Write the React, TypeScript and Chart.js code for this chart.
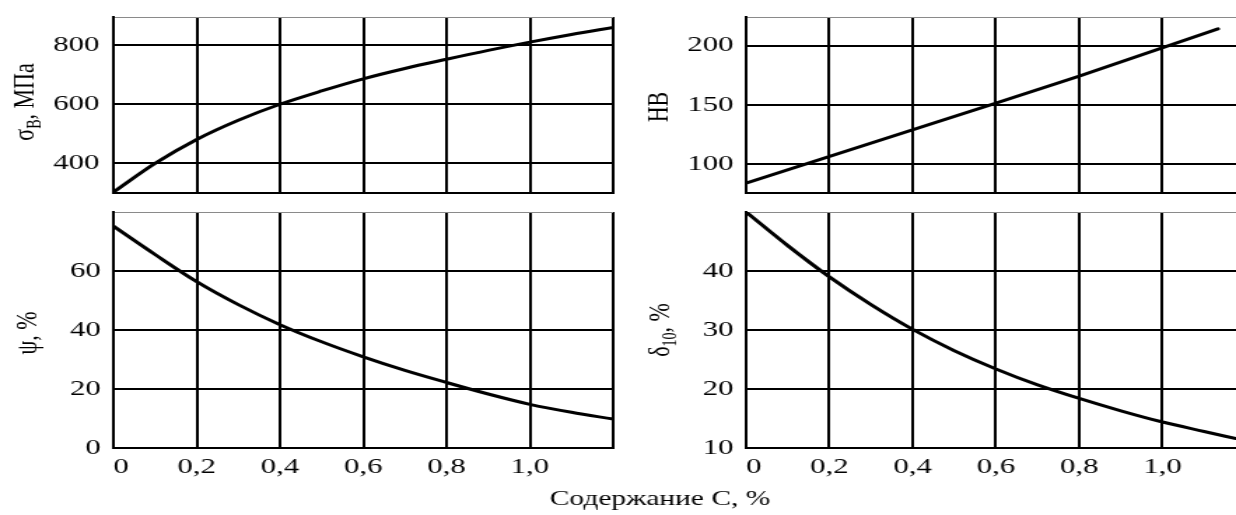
import React, { useEffect, useRef } from "react";
import { Chart, registerables } from "chart.js";

Chart.register(...registerables);

// ---------- data ----------
const carbonTicksLeft = [0, 0.2, 0.4, 0.6, 0.8, 1.0, 1.2];
const carbonTicksRight = [0, 0.2, 0.4, 0.6, 0.8, 1.0, 1.176];
const carbonTickLabels = ["0", "0,2", "0,4", "0,6", "0,8", "1,0", ""];

const strengthC = [0, 0.1, 0.2, 0.3, 0.4, 0.5, 0.6, 0.7, 0.8, 0.9, 1.0, 1.1, 1.2];
const strengthMPa = [303, 400, 481, 546, 600, 645, 686, 721, 752, 782, 810, 836, 860];
const strengthTicks = [400, 600, 800, 895];
const strengthTickLabels = ["400", "600", "800", ""];

const hardnessC = [0, 0.6, 0.8, 1.133];
const hardnessHB = [84.3, 151.5, 174.2, 214];
const hardnessTicks = [100, 150, 200, 224];
const hardnessTickLabels = ["100", "150", "200", ""];

const reductionC = [0, 0.1, 0.2, 0.3, 0.4, 0.5, 0.6, 0.7, 0.8, 0.9, 1.0, 1.1, 1.2];
const reductionPct = [75.2, 65.6, 56.4, 48.6, 41.8, 36.0, 30.9, 26.3, 22.2, 18.3, 14.8, 12.1, 9.8];
const reductionTicks = [0, 20, 40, 60, 80];
const reductionTickLabels = ["0", "20", "40", "60", ""];

const elongationC = [0, 0.1, 0.2, 0.3, 0.4, 0.5, 0.6, 0.7, 0.8, 0.9, 1.0, 1.1, 1.176];
const elongationPct = [50, 44.3, 39.0, 34.3, 30.1, 26.5, 23.4, 20.7, 18.4, 16.3, 14.4, 12.8, 11.6];
const elongationTicks = [10, 20, 30, 40, 50];
const elongationTickLabels = ["10", "20", "30", "40", ""];

const xAxisTitle = "Содержание С, %";

// ---------- layout (internal canvas units, stretched horizontally by CSS) ----------
const CW = 883;
const CH = 515;
const PAGE_W = 1236;
const FONT = '"Liberation Serif", "Times New Roman", serif';

type Part = { text: string; sub?: boolean };
type Panel = {
  xs: number[];
  ys: number[];
  straight?: boolean;
  xMin: number;
  xMax: number;
  xTicks: number[];
  xLabels: string[];
  showXLabels: boolean;
  lastXGridHidden: boolean;
  yMin: number;
  yMax: number;
  yTicks: number[];
  yLabels: string[];
  pad: { left: number; right: number; top: number; bottom: number };
  yWidth: number;
  yPad: number;
  xHeight: number;
  title: Part[];
  titleX: number;
  titleY: number;
  xTitle?: boolean;
};

const panels: Panel[] = [
  {
    xs: strengthC, ys: strengthMPa,
    xMin: 0, xMax: 1.2, xTicks: carbonTicksLeft, xLabels: carbonTickLabels, showXLabels: false, lastXGridHidden: false,
    yMin: 300, yMax: 895, yTicks: strengthTicks, yLabels: strengthTickLabels,
    pad: { left: 0, right: CW - 438, top: 17, bottom: CH - 193 }, yWidth: 81, yPad: 10, xHeight: 0,
    title: [{ text: "σ" }, { text: "В", sub: true }, { text: ", МПа" }], titleX: 23.5, titleY: 102,
  },
  {
    xs: hardnessC, ys: hardnessHB, straight: true,
    xMin: 0, xMax: 1.1765, xTicks: carbonTicksRight, xLabels: carbonTickLabels, showXLabels: false, lastXGridHidden: true,
    yMin: 76, yMax: 224, yTicks: hardnessTicks, yLabels: hardnessTickLabels,
    pad: { left: 450, right: 0, top: 17, bottom: CH - 193 }, yWidth: 83, yPad: 9, xHeight: 0,
    title: [{ text: "HB" }], titleX: 477, titleY: 107,
  },
  {
    xs: reductionC, ys: reductionPct,
    xMin: 0, xMax: 1.2, xTicks: carbonTicksLeft, xLabels: carbonTickLabels, showXLabels: true, lastXGridHidden: false,
    yMin: 0, yMax: 80, yTicks: reductionTicks, yLabels: reductionTickLabels,
    pad: { left: 0, right: CW - 438, top: 212, bottom: 0 }, yWidth: 81, yPad: 9, xHeight: CH - 448,
    title: [{ text: "ψ, %" }], titleX: 25.5, titleY: 333, xTitle: true,
  },
  {
    xs: elongationC, ys: elongationPct,
    xMin: 0, xMax: 1.1765, xTicks: carbonTicksRight, xLabels: carbonTickLabels, showXLabels: true, lastXGridHidden: true,
    yMin: 10, yMax: 50, yTicks: elongationTicks, yLabels: elongationTickLabels,
    pad: { left: 450, right: 0, top: 212, bottom: 0 }, yWidth: 83, yPad: 9, xHeight: CH - 448,
    title: [{ text: "δ" }, { text: "10", sub: true }, { text: ", %" }], titleX: 478, titleY: 330,
  },
];

function titlePlugin(p: Panel) {
  return {
    id: "panelTitle",
    afterDraw(chart: any) {
      const ctx = chart.ctx as CanvasRenderingContext2D;
      ctx.save();
      ctx.fillStyle = "#000";
      ctx.textAlign = "left";
      ctx.textBaseline = "alphabetic";
      const widths = p.title.map((part) => {
        ctx.font = `${part.sub ? 14 : 22}px ${FONT}`;
        return ctx.measureText(part.text).width;
      });
      const total = widths.reduce((a, b) => a + b, 0);
      ctx.translate(p.titleX, p.titleY);
      ctx.rotate(-Math.PI / 2);
      let cx = -total / 2;
      p.title.forEach((part, i) => {
        ctx.font = `${part.sub ? 14 : 22}px ${FONT}`;
        ctx.fillText(part.text, cx, part.sub ? 5 : 0);
        cx += widths[i];
      });
      ctx.restore();
      if (p.xTitle) {
        ctx.save();
        ctx.fillStyle = "#000";
        ctx.font = `21px ${FONT}`;
        ctx.textAlign = "center";
        ctx.textBaseline = "middle";
        ctx.fillText(xAxisTitle, 471.5, 499);
        ctx.restore();
      }
    },
  };
}

function buildConfig(p: Panel): any {
  const tickFont = { family: FONT, size: 22, lineHeight: 1 };
  const zeroPad = (s: any) => {
    s.paddingLeft = 0;
    s.paddingRight = 0;
    s.paddingTop = 0;
    s.paddingBottom = 0;
  };
  return {
    type: "line",
    data: {
      datasets: [
        {
          data: p.xs.map((x, i) => ({ x, y: p.ys[i] })),
          borderColor: "#000",
          borderWidth: 3,
          pointRadius: 0,
          fill: false,
          tension: p.straight ? 0 : 0.4,
          cubicInterpolationMode: p.straight ? "default" : "monotone",
          borderCapStyle: "round",
        },
      ],
    },
    options: {
      responsive: false,
      maintainAspectRatio: false,
      animation: false,
      devicePixelRatio: 1,
      events: [],
      layout: { padding: p.pad, autoPadding: false },
      plugins: {
        legend: { display: false },
        tooltip: { enabled: false },
        title: { display: false },
      },
      scales: {
        x: {
          type: "linear",
          position: "bottom",
          min: p.xMin,
          max: p.xMax,
          afterBuildTicks: (s: any) => {
            s.ticks = p.xTicks.map((v) => ({ value: v }));
          },
          afterFit: (s: any) => {
            s.height = p.xHeight;
            zeroPad(s);
          },
          grid: {
            display: true,
            drawTicks: false,
            tickLength: 0,
            lineWidth: 2,
            color: (c: any) =>
              p.lastXGridHidden && c.tick && c.tick.value === p.xTicks[p.xTicks.length - 1]
                ? "rgba(0,0,0,0)"
                : "#000",
          },
          border: { display: true, color: "#000", width: 2 },
          ticks: {
            display: p.showXLabels,
            align: "inner",
            padding: 8,
            autoSkip: false,
            maxRotation: 0,
            minRotation: 0,
            color: "#000",
            font: tickFont,
            callback: (_v: any, i: number) => p.xLabels[i],
          },
        },
        y: {
          type: "linear",
          position: "left",
          min: p.yMin,
          max: p.yMax,
          afterBuildTicks: (s: any) => {
            s.ticks = p.yTicks.map((v) => ({ value: v }));
          },
          afterFit: (s: any) => {
            s.width = p.yWidth;
            zeroPad(s);
          },
          grid: {
            display: true,
            drawTicks: false,
            tickLength: 0,
            lineWidth: (c: any) => (c.tick && c.tick.value === p.yMax ? 1 : 2),
            color: (c: any) => (c.tick && c.tick.value === p.yMax ? "#8a8a8a" : "#000"),
          },
          border: { display: true, color: "#000", width: 2 },
          ticks: {
            display: true,
            padding: p.yPad,
            autoSkip: false,
            color: "#000",
            font: tickFont,
            callback: (_v: any, i: number) => p.yLabels[i],
          },
        },
      },
    },
    plugins: [titlePlugin(p)],
  };
}

export default function App() {
  const r0 = useRef<HTMLCanvasElement>(null);
  const r1 = useRef<HTMLCanvasElement>(null);
  const r2 = useRef<HTMLCanvasElement>(null);
  const r3 = useRef<HTMLCanvasElement>(null);
  const refs = [r0, r1, r2, r3];

  useEffect(() => {
    const charts = panels.map((p, i) => new Chart(refs[i].current as HTMLCanvasElement, buildConfig(p)));
    return () => charts.forEach((c) => c.destroy());
  }, []);

  return (
    <div style={{ position: "absolute", left: 0, top: 0, width: PAGE_W, height: CH, background: "#fff" }}>
      {panels.map((_, i) => (
        <canvas
          key={i}
          ref={refs[i]}
          width={CW}
          height={CH}
          style={{ position: "absolute", left: 0, top: 0, width: `${PAGE_W}px`, height: `${CH}px` }}
        />
      ))}
    </div>
  );
}
